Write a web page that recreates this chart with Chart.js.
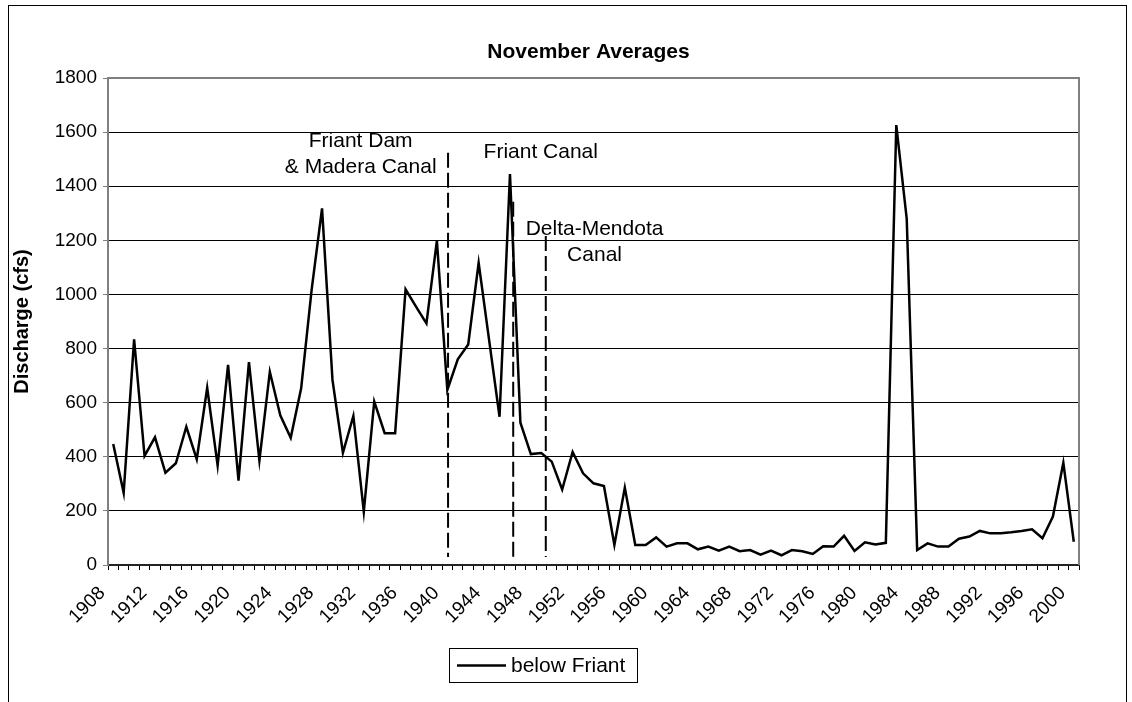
<!DOCTYPE html>
<html>
<head>
<meta charset="utf-8">
<style>
html,body{margin:0;padding:0;background:#fff;}
#wrap{width:1132px;height:702px;position:relative;overflow:hidden;}
canvas{display:block;}
</style>
<script src="https://cdn.jsdelivr.net/npm/chart.js@4.4.1/dist/chart.umd.min.js"></script>
</head>
<body>
<div id="wrap"><canvas id="c" width="1132" height="702"></canvas></div>
<script>
// ---------------- DATA ----------------
const categories = ["1908","1909","1910","1911","1912","1913","1914","1915","1916","1917",
  "1918","1919","1920","1921","1922","1923","1924","1925","1926","1927",
  "1928","1929","1930","1931","1932","1933","1934","1935","1936","1937",
  "1938","1939","1940","1941","1942","1943","1944","1945","1946","1947",
  "1948","1949","1950","1951","1952","1953","1954","1955","1956","1957",
  "1958","1959","1960","1961","1962","1963","1964","1965","1966","1967",
  "1968","1969","1970","1971","1972","1973","1974","1975","1976","1977",
  "1978","1979","1980","1981","1982","1983","1984","1985","1986","1987",
  "1988","1989","1990","1991","1992","1993","1994","1995","1996","1997",
  "1998","1999","2000"];

const belowFriant = [447,267,834,403,472,341,376,511,391,655,
  368,740,312,750,386,714,553,470,653,1016,
  1318,684,415,551,197,604,487,487,1019,955,
  893,1199,647,760,815,1117,832,548,1445,526,
  410,414,382,279,418,339,302,292,74,286,
  74,74,102,68,80,80,58,68,53,68,
  51,55,38,53,36,55,51,41,69,68,
  108,52,84,76,82,1626,1279,55,80,68,
  68,97,105,126,117,117,121,126,132,99,
  179,378,86];

const seriesName = "below Friant";
const chartTitle = "November Averages";
const yAxisTitle = "Discharge (cfs)";

const yTickValues = [0,200,400,600,800,1000,1200,1400,1600,1800];
const xTickLabels = ["1908","1912","1916","1920","1924","1928","1932","1936","1940","1944",
  "1948","1952","1956","1960","1964","1968","1972","1976","1980","1984",
  "1988","1992","1996","2000"];

// event markers (vertical dashed lines), positioned in years / discharge
const markerYears = [1940.07, 1946.31, 1949.43];
const markerTops = [1524, 1343, 1216];
const markerBottoms = [30, 30, 30];

// annotation texts, anchored at (year, discharge of first baseline)
const annoLines = [["Friant Dam", "& Madera Canal"], ["Friant Canal"], ["Delta-Mendota", "Canal"]];
const annoYears = [1931.7, 1948.95, 1954.1];
const annoValues = [1545, 1504, 1219];

// ---------------- CHART ----------------
const FONT = "'Liberation Sans', Arial, Helvetica, sans-serif";
Chart.defaults.font.family = FONT;
Chart.defaults.color = '#000';

function yearToIndex(y){ return y - Number(categories[0]); }

const decoPlugin = {
  id: 'deco',
  beforeDraw(chart){
    const ctx = chart.ctx;
    ctx.save();
    ctx.fillStyle = '#fff';
    ctx.fillRect(0,0,chart.width,chart.height);
    ctx.strokeStyle = '#000';
    ctx.lineWidth = 1;
    ctx.strokeRect(8.5, 5.5, 1118, 760);
    ctx.restore();
  },
  beforeDatasetsDraw(chart){
    const {ctx, chartArea:a} = chart;
    ctx.save();
    ctx.strokeStyle = '#808080';
    ctx.lineWidth = 2;
    ctx.beginPath();
    ctx.moveTo(a.left, a.top);
    ctx.lineTo(a.right, a.top);
    ctx.lineTo(a.right, a.bottom);
    ctx.stroke();
    ctx.restore();
  },
  afterDatasetsDraw(chart){
    const {ctx, scales:{x, y}} = chart;
    ctx.save();
    ctx.strokeStyle = '#000';
    ctx.lineWidth = 2;
    ctx.setLineDash([15, 5]);
    for (let i = 0; i < markerYears.length; i++){
      const px = x.getPixelForValue(yearToIndex(markerYears[i]));
      ctx.beginPath();
      ctx.moveTo(px, y.getPixelForValue(markerTops[i]));
      ctx.lineTo(px, y.getPixelForValue(markerBottoms[i]));
      ctx.stroke();
    }
    ctx.setLineDash([]);
    ctx.fillStyle = '#000';
    ctx.font = "21px " + FONT;
    ctx.textAlign = 'center';
    ctx.textBaseline = 'alphabetic';
    for (let i = 0; i < annoLines.length; i++){
      const px = x.getPixelForValue(yearToIndex(annoYears[i]));
      const py = y.getPixelForValue(annoValues[i]);
      annoLines[i].forEach((t, k) => ctx.fillText(t, px, py + k*26));
    }
    ctx.restore();
  },
  afterDraw(chart){
    const {ctx, chartArea:a} = chart;
    ctx.save();
    // title
    ctx.fillStyle = '#000';
    ctx.font = "bold 21px " + FONT;
    ctx.textAlign = 'center';
    ctx.textBaseline = 'middle';
    ctx.fillText(chartTitle, (a.left + a.right)/2 - 5, 52);
    // legend
    const ds = chart.data.datasets[0];
    const lx = 449.5, ly = 648.5, lw = 188, lh = 34;
    ctx.strokeStyle = '#000';
    ctx.lineWidth = 1;
    ctx.strokeRect(lx, ly, lw, lh);
    ctx.lineWidth = ds.borderWidth;
    ctx.beginPath();
    ctx.moveTo(lx + 7.5, ly + 17);
    ctx.lineTo(lx + 56.5, ly + 17);
    ctx.stroke();
    ctx.font = "21px " + FONT;
    ctx.textAlign = 'left';
    ctx.textBaseline = 'middle';
    ctx.fillText(ds.label, lx + 61.5, ly + 17.5);
    ctx.restore();
  }
};

new Chart(document.getElementById('c'), {
  type: 'line',
  data: {
    labels: categories,
    datasets: [{
      label: seriesName,
      data: belowFriant,
      borderColor: '#000',
      backgroundColor: '#000',
      borderWidth: 2.5,
      pointRadius: 0,
      pointHoverRadius: 0,
      tension: 0,
      fill: false
    }]
  },
  options: {
    responsive: false,
    animation: false,
    devicePixelRatio: 1,
    layout: { padding: { top: 78, right: 53, bottom: 62, left: 0 } },
    plugins: {
      legend: { display: false },
      title: { display: false },
      tooltip: { enabled: false }
    },
    scales: {
      x: {
        type: 'category',
        offset: true,
        grid: { display: true, drawOnChartArea: false, drawTicks: true, tickLength: 5, offset: true, color: '#000', lineWidth: 1 },
        border: { display: true, color: '#222', width: 2 },
        ticks: {
          autoSkip: false,
          minRotation: 45,
          maxRotation: 45,
          padding: 12,
          labelOffset: -11,
          font: { size: 19 },
          color: '#000',
          callback: function(val, idx){ const l = categories[idx]; return xTickLabels.includes(l) ? l : ''; }
        },
        afterFit(scale){ scale.height = 75; }
      },
      y: {
        min: 0,
        max: 1800,
        afterBuildTicks(scale){ scale.ticks = yTickValues.map(v => ({ value: v })); },
        grid: { color: '#000', lineWidth: 1, drawTicks: true, tickLength: 5, tickColor: '#808080' },
        border: { display: true, color: '#808080', width: 2 },
        ticks: { padding: 6, font: { size: 19 }, color: '#000', callback: (v) => String(v) },
        title: { display: true, text: yAxisTitle, font: { size: 20, weight: 'bold' }, color: '#000', padding: { top: 10, bottom: 0 } },
        afterFit(scale){ scale.width = 108; }
      }
    }
  },
  plugins: [decoPlugin]
});
</script>
</body>
</html>
